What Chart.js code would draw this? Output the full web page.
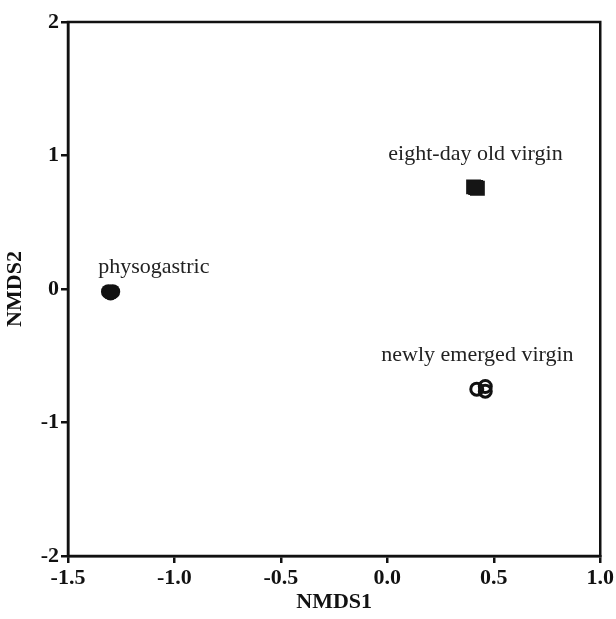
<!DOCTYPE html>
<html>
<head>
<meta charset="utf-8">
<script src="https://cdn.jsdelivr.net/npm/chart.js@4/dist/chart.umd.min.js"></script>
<style>
  html, body { margin: 0; padding: 0; background: #fff; }
  #wrap { width: 616px; height: 619px; }
</style>
</head>
<body>
<div id="wrap"><canvas id="c" width="616" height="619"></canvas></div>
<script>
// NMDS coordinates
const groupNames = ["physogastric", "eight-day old virgin", "newly emerged virgin"];
const physoX = [-1.31, -1.30, -1.29];
const physoY = [-0.02, -0.03, -0.02];
const eightX = [0.405, 0.415, 0.423];
const eightY = [0.765, 0.76, 0.755];
const newlyX = [0.42, 0.46, 0.46];
const newlyY = [-0.75, -0.73, -0.765];
// where the group names sit (centre, baseline), in data units
const labelX = [-1.097, 0.414, 0.423];
const labelY = [0.12, 0.966, -0.539];

const xTicks = [-1.5, -1.0, -0.5, 0.0, 0.5, 1.0];
const yTicks = [-2, -1, 0, 1, 2];

function toPoints(xs, ys){
    let pts = [];
    for (let i = 0; i < xs.length; i++){
        pts.push({x: xs[i], y: ys[i]});
    }
    return pts;
}

const serif = "'Liberation Serif', 'Times New Roman', serif";

// full box round the plot and the group names
const boxAndLabels = {
    id: 'boxAndLabels',
    afterDatasetsDraw(chart) {
        const ctx = chart.ctx;
        const a = chart.chartArea;
        ctx.save();
        ctx.strokeStyle = '#111';
        ctx.lineWidth = 2.5;
        ctx.strokeRect(a.left, a.top, a.right - a.left, a.bottom - a.top);
        ctx.fillStyle = '#222';
        ctx.font = "22px " + serif;
        ctx.textAlign = 'center';
        ctx.textBaseline = 'alphabetic';
        for (let i = 0; i < groupNames.length; i++){
            const px = chart.scales.x.getPixelForValue(labelX[i]);
            const py = chart.scales.y.getPixelForValue(labelY[i]);
            ctx.fillText(groupNames[i], px, py);
        }
        ctx.restore();
    }
};

const chart = new Chart(document.getElementById('c'), {
    type: 'scatter',
    data: {
        datasets: [
            {
                label: groupNames[0],
                data: toPoints(physoX, physoY),
                pointStyle: 'circle',
                pointRadius: 7.5,
                backgroundColor: '#111',
                borderColor: '#111',
                borderWidth: 0
            },
            {
                label: groupNames[1],
                data: toPoints(eightX, eightY),
                pointStyle: 'rect',
                pointRadius: 10.5,
                backgroundColor: '#151515',
                borderColor: '#151515',
                borderWidth: 0
            },
            {
                label: groupNames[2],
                data: toPoints(newlyX, newlyY),
                pointStyle: 'circle',
                pointRadius: 6,
                backgroundColor: 'rgba(255,255,255,0)',
                borderColor: '#111',
                borderWidth: 3
            }
        ]
    },
    plugins: [boxAndLabels],
    options: {
        responsive: false,
        animation: false,
        layout: { padding: { top: 22, right: 15, left: 0, bottom: 0 } },
        plugins: {
            legend: { display: false },
            tooltip: { enabled: false }
        },
        scales: {
            x: {
                type: 'linear',
                min: -1.5,
                max: 1.0,
                afterBuildTicks: (axis) => { axis.ticks = xTicks.map(v => ({value: v})); },
                afterFit: (axis) => { axis.height = 63; },
                border: { display: true, color: '#111', width: 2.5 },
                grid: { drawOnChartArea: false, drawTicks: true, tickLength: 7, color: '#111', lineWidth: 2.5 },
                ticks: {
                    color: '#111',
                    padding: 2,
                    maxRotation: 0,
                    font: { family: serif, size: 22, weight: 'bold' },
                    callback: (v) => Number(v).toFixed(1)
                },
                title: {
                    display: true,
                    text: 'NMDS1',
                    color: '#111',
                    padding: { top: 0, bottom: 3 },
                    font: { family: serif, size: 22, weight: 'bold' }
                }
            },
            y: {
                type: 'linear',
                min: -2,
                max: 2,
                afterBuildTicks: (axis) => { axis.ticks = yTicks.map(v => ({value: v})); },
                afterFit: (axis) => { axis.width = 68; },
                border: { display: true, color: '#111', width: 2.5 },
                grid: { drawOnChartArea: false, drawTicks: true, tickLength: 7, color: '#111', lineWidth: 2.5 },
                ticks: {
                    color: '#111',
                    padding: 2,
                    font: { family: serif, size: 22, weight: 'bold' },
                    callback: (v) => String(v)
                },
                title: {
                    display: true,
                    text: 'NMDS2',
                    color: '#111',
                    padding: { top: 2, bottom: 0 },
                    font: { family: serif, size: 22, weight: 'bold' }
                }
            }
        }
    }
});
</script>
</body>
</html>
